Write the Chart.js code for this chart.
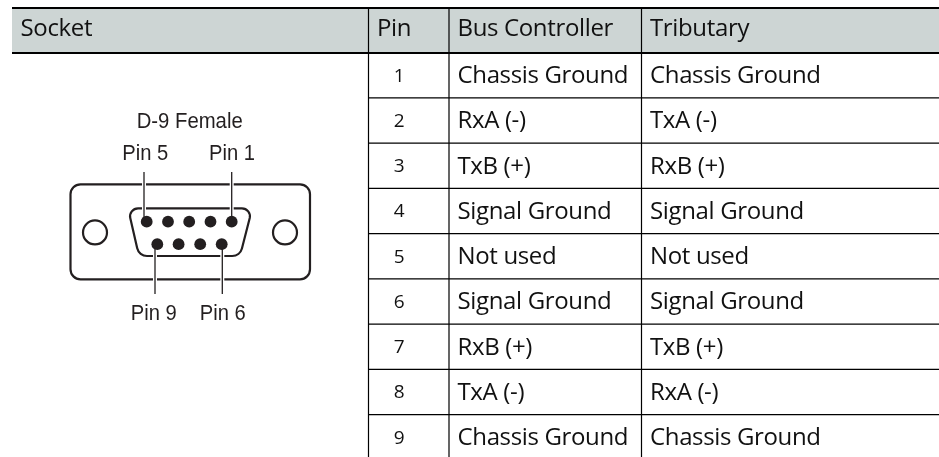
<!DOCTYPE html>
<html lang="en">
<head>
<meta charset="UTF-8">
<title>D-9 Female pinout</title>
<script src="https://cdn.jsdelivr.net/npm/chart.js"></script>
<style>
    html, body { margin: 0; padding: 0; background: #fff; }
    #wrap { width: 939px; height: 457px; }
</style>
</head>
<body>
<div id="wrap"><canvas id="myChart"></canvas></div>
<script>
    // table content
    const headers = ['Socket', 'Pin', 'Bus Controller', 'Tributary'];
    const pins = ['1', '2', '3', '4', '5', '6', '7', '8', '9'];
    const busController = ['Chassis Ground', 'RxA (-)', 'TxB (+)', 'Signal Ground', 'Not used',
        'Signal Ground', 'RxB (+)', 'TxA (-)', 'Chassis Ground'];
    const tributary = ['Chassis Ground', 'TxA (-)', 'RxB (+)', 'Signal Ground', 'Not used',
        'Signal Ground', 'TxB (+)', 'RxA (-)', 'Chassis Ground'];

    // connector diagram labels
    const socketTitle = 'D-9 Female';
    const pinLabels = ['Pin 5', 'Pin 1', 'Pin 9', 'Pin 6'];

    // table layout, in axis units (one unit is one pixel)
    const colEdges = [12, 368.5, 449, 641.5, 939];
    const tableTop = 8, headerBottom = 52.7, rowHeight = 45.25, tableBottom = 457;
    const rowY = i => headerBottom + i * rowHeight;

    const INK = '#231f20';
    const BODY_FONT = '"Open Sans"';
    const LABEL_FONT = '"Liberation Sans"';

    function rule(x1, y1, x2, y2, width, color) {
        return {
            type: 'scatter', showLine: true, pointRadius: 0, borderColor: color || '#000', borderWidth: width,
            data: [{ x: x1, y: y1 }, { x: x2, y: y2 }], order: 5
        };
    }

    const tableRules = [
        rule(colEdges[0], tableTop, 939, tableTop, 2),
        rule(colEdges[0], headerBottom + 0.3, 939, headerBottom + 0.3, 2)
    ];
    pins.forEach((p, i) => {
        if (i > 0) tableRules.push(rule(colEdges[1], rowY(i), 939, rowY(i), 1.2));
    });
    colEdges.slice(1, 4).forEach(x => tableRules.push(rule(x, tableTop, x, tableBottom, 1.2)));

    // contacts of the connector: top row is pin 5..1, bottom row pin 9..6
    const topContacts = [146.7, 168, 189.2, 210.5, 231.7].map(x => ({ x: x, y: 221.7 }));
    const bottomContacts = [157.3, 178.6, 200.2, 221.7].map(x => ({ x: x, y: 244.2 }));
    const contactSet = {
        type: 'scatter', data: topContacts.concat(bottomContacts), pointRadius: 5.9,
        backgroundColor: INK, borderWidth: 0, order: 1
    };

    const tablePlugin = {
        id: 'tablePlugin',
        beforeDatasetsDraw(chart) {
            const { ctx, scales: { x, y } } = chart;
            ctx.save();
            ctx.fillStyle = '#cdd5d4';
            ctx.fillRect(x.getPixelForValue(colEdges[0]), y.getPixelForValue(tableTop),
                x.getPixelForValue(939) - x.getPixelForValue(colEdges[0]),
                y.getPixelForValue(headerBottom) - y.getPixelForValue(tableTop));

            // outer shell, rounded rect
            ctx.strokeStyle = INK;
            ctx.lineWidth = 2.2;
            ctx.beginPath();
            ctx.roundRect(x.getPixelForValue(70.5), y.getPixelForValue(184.3), 239.5, 95, 10);
            ctx.stroke();
            [95, 285].forEach(cx => {
                ctx.beginPath();
                ctx.arc(x.getPixelForValue(cx), y.getPixelForValue(232.4), 12, 0, Math.PI * 2);
                ctx.stroke();
            });

            // D shaped inner shell
            ctx.beginPath();
            ctx.moveTo(x.getPixelForValue(190), y.getPixelForValue(208.3));
            ctx.arcTo(x.getPixelForValue(252), y.getPixelForValue(208.3), x.getPixelForValue(241), y.getPixelForValue(256), 8);
            ctx.arcTo(x.getPixelForValue(240), y.getPixelForValue(256), x.getPixelForValue(190), y.getPixelForValue(256), 10);
            ctx.arcTo(x.getPixelForValue(139), y.getPixelForValue(256), x.getPixelForValue(128), y.getPixelForValue(208.3), 10);
            ctx.arcTo(x.getPixelForValue(128), y.getPixelForValue(208.3), x.getPixelForValue(190), y.getPixelForValue(208.3), 8);
            ctx.closePath();
            ctx.stroke();

            // leader lines with a white halo where they cross the shell
            [[144, 172, 218], [231.7, 172, 218], [155, 248, 294], [222.3, 248, 294]].forEach(l => {
                const px = x.getPixelForValue(l[0]), y1 = y.getPixelForValue(l[1]), y2 = y.getPixelForValue(l[2]);
                ctx.strokeStyle = '#fff';
                ctx.lineWidth = 4;
                ctx.beginPath(); ctx.moveTo(px, y1); ctx.lineTo(px, y2); ctx.stroke();
                ctx.strokeStyle = INK;
                ctx.lineWidth = 1.3;
                ctx.beginPath(); ctx.moveTo(px, y1); ctx.lineTo(px, y2); ctx.stroke();
            });
            ctx.restore();
        },
        afterDatasetsDraw(chart) {
            const { ctx, scales: { x, y } } = chart;
            ctx.save();
            ctx.textBaseline = 'middle';
            ctx.fillStyle = '#111';

            // header row
            ctx.font = '24px ' + BODY_FONT;
            ctx.letterSpacing = '-0.35px';
            ctx.textAlign = 'left';
            headers.forEach((h, c) => {
                ctx.fillText(h, x.getPixelForValue(colEdges[c] + 8.5), y.getPixelForValue(29.5));
            });

            // body rows
            pins.forEach((p, i) => {
                const cy = y.getPixelForValue(rowY(i) + rowHeight / 2 + 1);
                ctx.font = '19px ' + BODY_FONT;
                ctx.textAlign = 'center';
                ctx.fillText(p, x.getPixelForValue(399), cy);
                ctx.font = '24px ' + BODY_FONT;
                ctx.textAlign = 'left';
                ctx.fillText(busController[i], x.getPixelForValue(colEdges[2] + 8.5), cy);
                ctx.fillText(tributary[i], x.getPixelForValue(colEdges[3] + 8.5), cy);
            });

            // diagram labels, squeezed to the condensed look of the original
            ctx.letterSpacing = '0px';
            ctx.fillStyle = INK;
            ctx.font = '22px ' + LABEL_FONT;
            ctx.textAlign = 'center';
            ctx.fillText(socketTitle, x.getPixelForValue(189.7), y.getPixelForValue(122), 106);
            [[145.3, 153.5], [232, 153.5], [153.7, 313.5], [222.7, 313.5]].forEach((pos, i) => {
                ctx.fillText(pinLabels[i], x.getPixelForValue(pos[0]), y.getPixelForValue(pos[1]), 46);
            });
            ctx.restore();
        }
    };

    new Chart(document.getElementById('myChart').getContext('2d'), {
        type: 'scatter',
        data: { datasets: tableRules.concat([contactSet]) },
        options: {
            responsive: true,
            maintainAspectRatio: false,
            animation: false,
            layout: { padding: 0, autoPadding: false },
            plugins: { legend: { display: false }, tooltip: { enabled: false } },
            scales: {
                x: { type: 'linear', display: false, min: 0, max: 939 },
                y: { type: 'linear', display: false, min: 0, max: 457, reverse: true }
            }
        },
        plugins: [tablePlugin]
    });
</script>
</body>
</html>
